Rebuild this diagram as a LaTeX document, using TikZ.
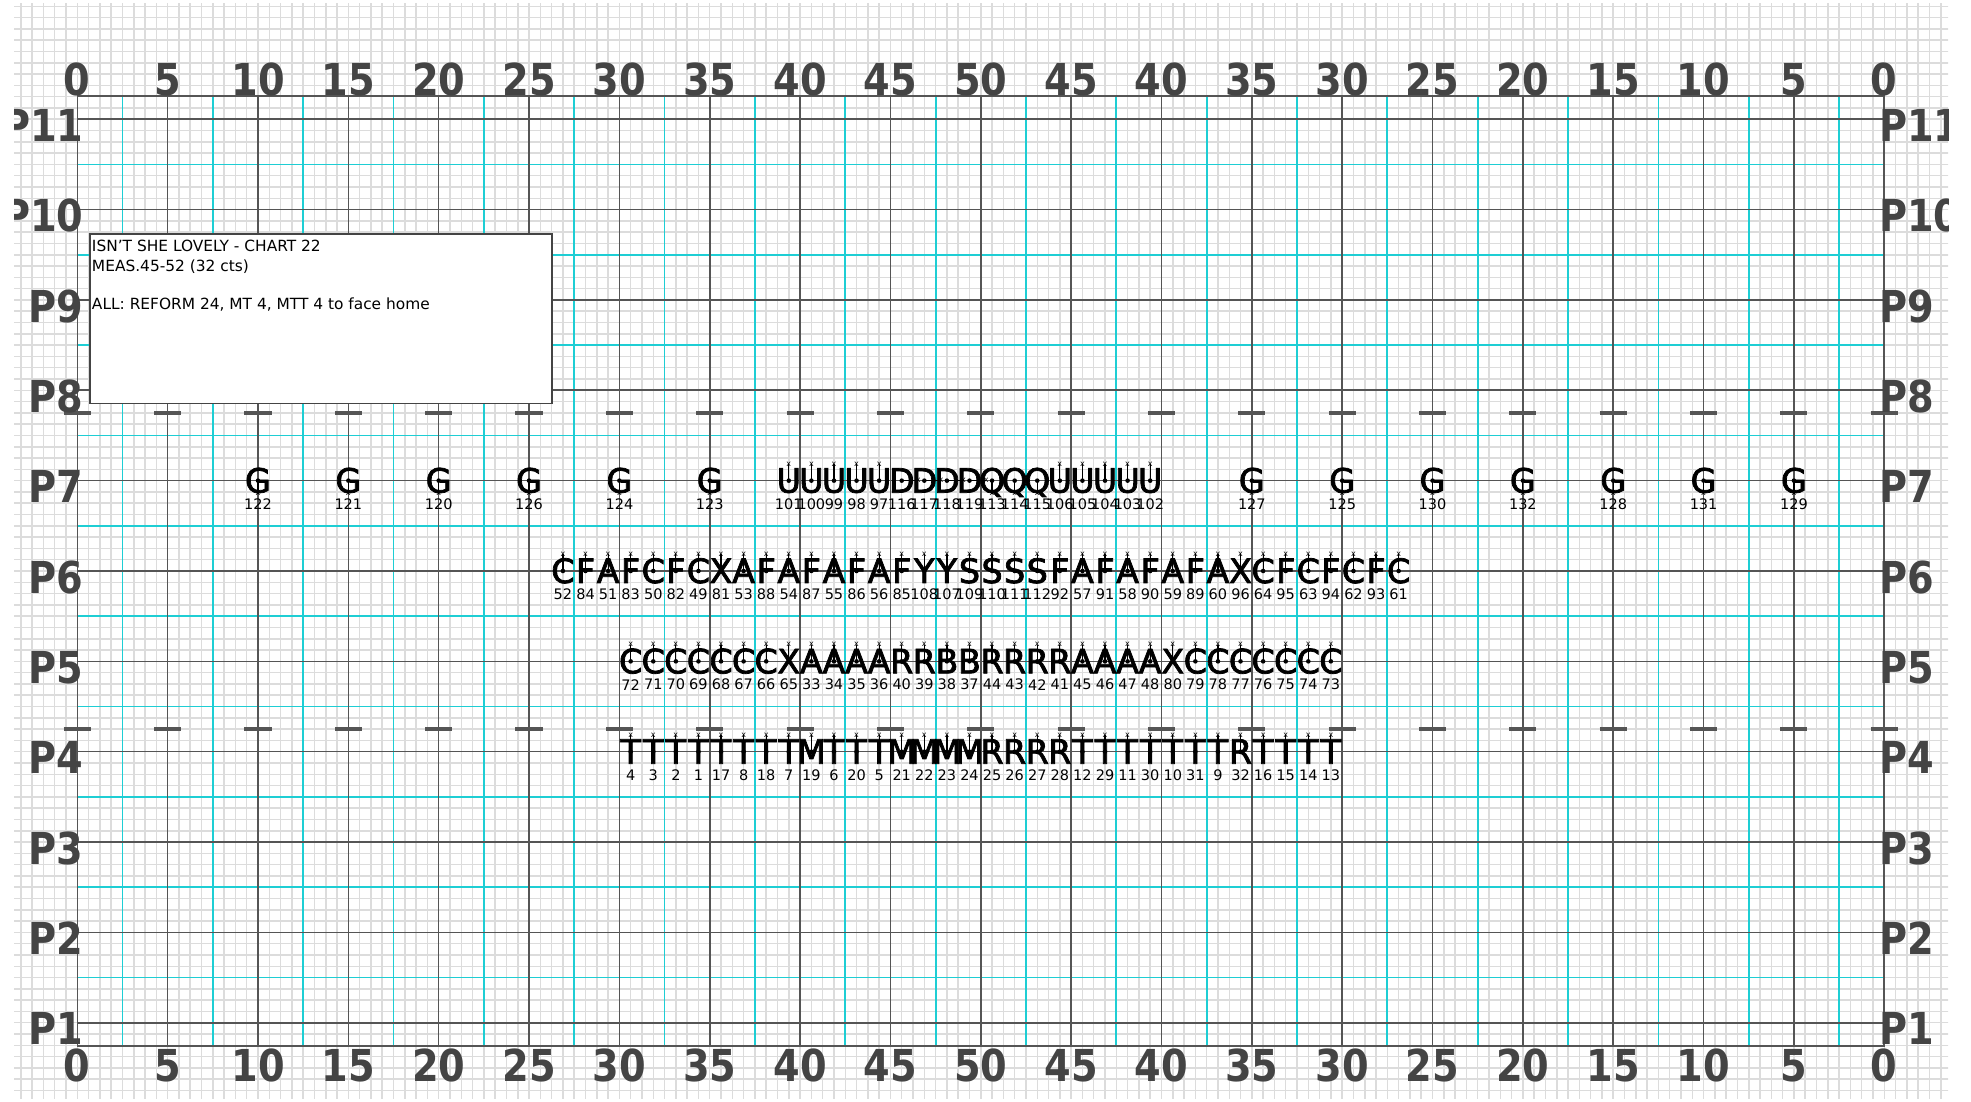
\documentclass[tikz,border=0pt]{standalone}
\usepackage{fontspec}
\setmainfont{DejaVu Sans}
\newfontfamily\perffont[FakeBold=2.2]{DejaVu Sans}
\usetikzlibrary{calc}

% one marcher: symbol, facing mark, dot and drill number
\newcommand{\performer}[5]{%
  \node[perf] (p#4) at (#1,#2) {#3};
  \node[facemark] (f#4) at ($(p#4.center)+(#5)$) {x};
  \draw[facetick] (p#4.center) -- (f#4.center);
  \fill (p#4.center) circle (2.3bp);
  \node[drillnum] (n#4) at ($(p#4.center)+(0,-1.29)$) {#4};
}
% narrow bold field numbers
\newcommand{\fieldtext}[1]{\scalebox{0.87}[1]{#1}}

\begin{document}
\begin{tikzpicture}[x=18.07bp,y=18.07bp,
    stepgrid/.style={draw=gridgray,line width=1.5bp,step=0.625},
    yardline/.style={draw=linegray,line width=1.6bp},
    halfline/.style={draw=halfcyan,line width=1.8bp},
    hashmark/.style={draw=linegray,line width=4bp},
    yardnum/.style={text=numgray,inner sep=0pt,
        font=\fontsize{44bp}{44bp}\selectfont\bfseries},
    sidelabel/.style={yardnum},
    perf/.style={inner sep=0pt,text height=24bp,text depth=0pt,anchor=center,
        font=\fontsize{33.5bp}{33.5bp}\perffont},
    facemark/.style={inner sep=0pt,font=\fontsize{8bp}{8bp}\selectfont},
    facetick/.style={line width=1.2bp},
    drillnum/.style={inner sep=0pt,font=\fontsize{14.5bp}{14.5bp}\selectfont},
    titlebox/.style={draw=numgray,fill=white,line width=1.5bp,inner sep=0pt},
    charttext/.style={inner sep=0pt,align=left,
        font=\fontsize{15.4bp}{19.3bp}\selectfont}]
    \definecolor{gridgray}{RGB}{220,220,220}
    \definecolor{linegray}{RGB}{85,85,85}
    \definecolor{numgray}{RGB}{68,68,68}
    \definecolor{halfcyan}{RGB}{30,206,212}

    \useasboundingbox (-4.278,-4.333) rectangle (104.80,56.60);

    \begin{scope}
    \clip (-3.503,-4.22) rectangle (103.53,56.43);

    % step grid
    \draw[stepgrid] (-4.375,-4.375) grid (105,56.875);

    % half lines
    \foreach \x in {2.5,7.5,...,97.5}
        \draw[halfline] (\x,-1.29)--(\x,51.29);
    \foreach \y in {2.5,7.5,...,47.5}
        \draw[halfline] (0,\y)--(100,\y);

    % yard lines and point lines
    \foreach \x in {0,5,...,100}
        \draw[yardline] (\x,-1.29)--(\x,51.29);
    \foreach \y in {0,5,...,50}
        \draw[yardline] (0,\y)--(100,\y);
    \draw[yardline] (0,-1.29) rectangle (100,51.29);

    % hashes
    \foreach \x in {0,5,...,100}{
        \draw[hashmark] ({\x-0.75},33.75)--({\x+0.75},33.75);
        \draw[hashmark] ({\x-0.75},16.25)--({\x+0.75},16.25);
    }

    % yard numbers
    \foreach \x in {0,5,...,100}{
        \pgfmathtruncatemacro{\yd}{min(\x,100-\x)}
        \node[yardnum,anchor=base] (ydtop\x) at (\x,51.34) {\fieldtext{\yd}};
        \node[yardnum,anchor=base] (ydbot\x) at (\x,-3.27) {\fieldtext{\yd}};
    }

    % point labels
    \foreach \k in {1,...,11}{
        \node[sidelabel,anchor=base east] (pl\k) at (0.35,{5*(\k-1)-1.23}) {\fieldtext{P\k}};
        \node[sidelabel,anchor=base west] (pr\k) at (99.7,{5*(\k-1)-1.23}) {\fieldtext{P\k}};
    }
    \end{scope}

    % chart info
    \node[titlebox,anchor=north west,minimum width=462bp,minimum height=169.5bp]
        (chartbox) at (0.664,43.69) {};
    \node[charttext,anchor=north west] (charttext)
        at ([shift={(2.5bp,-7bp)}]chartbox.north west)
        {ISN'T SHE LOVELY - CHART 22\\MEAS.45-52 (32 cts)\\[19.3bp]ALL: REFORM 24, MT 4, MTT 4 to face home};

    % P7 guard
    \foreach \x/\n in {10/122,15/121,20/120,25/126,30/124,35/123,
                       65/127,70/125,75/130,80/132,85/128,90/131,95/129}
        \performer{\x}{30}{G}{\n}{-90:0.72};

    % P7 centre
    \foreach \L/\n/\f [count=\i from 0] in {U/101/90:0.92,U/100/90:0.92,U/99/90:0.92,
            U/98/90:0.92,U/97/90:0.92,D/116/0:0.92,D/117/0:0.92,D/118/0:0.92,
            D/119/0:0.92,Q/113/-90:0.72,Q/114/-90:0.72,Q/115/-90:0.72,
            U/106/90:0.92,U/105/90:0.92,U/104/90:0.92,U/103/90:0.92,U/102/90:0.92}{
        \pgfmathsetmacro{\px}{39.375+1.25*\i}
        \performer{\px}{30}{\L}{\n}{\f}
    }

    % P6
    \foreach \L/\n [count=\i from 0] in {C/52,F/84,A/51,F/83,C/50,F/82,C/49,X/81,
            A/53,F/88,A/54,F/87,A/55,F/86,A/56,F/85,Y/108,Y/107,S/109,S/110,
            S/111,S/112,F/92,A/57,F/91,A/58,F/90,A/59,F/89,A/60,X/96,C/64,
            F/95,C/63,F/94,C/62,F/93,C/61}{
        \pgfmathsetmacro{\px}{26.875+1.25*\i}
        \performer{\px}{25}{\L}{\n}{90:0.92}
    }

    % P5
    \foreach \L/\n [count=\i from 0] in {C/72,C/71,C/70,C/69,C/68,C/67,C/66,X/65,
            A/33,A/34,A/35,A/36,R/40,R/39,B/38,B/37,R/44,R/43,R/42,R/41,
            A/45,A/46,A/47,A/48,X/80,C/79,C/78,C/77,C/76,C/75,C/74,C/73}{
        \pgfmathsetmacro{\px}{30.625+1.25*\i}
        \performer{\px}{20}{\L}{\n}{90:0.92}
    }

    % P4
    \foreach \L/\n [count=\i from 0] in {T/4,T/3,T/2,T/1,T/17,T/8,T/18,T/7,
            M/19,T/6,T/20,T/5,M/21,M/22,M/23,M/24,R/25,R/26,R/27,R/28,
            T/12,T/29,T/11,T/30,T/10,T/31,T/9,R/32,T/16,T/15,T/14,T/13}{
        \pgfmathsetmacro{\px}{30.625+1.25*\i}
        \performer{\px}{15}{\L}{\n}{90:0.92}
    }
\end{tikzpicture}
\end{document}
